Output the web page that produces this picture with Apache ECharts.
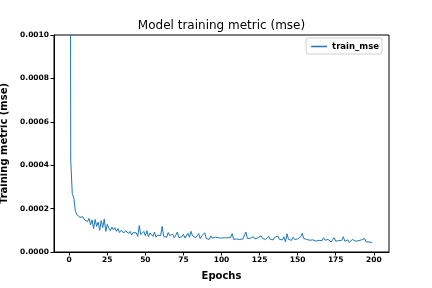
<!DOCTYPE html>
<html><head><meta charset="utf-8">
<script src="https://cdn.jsdelivr.net/npm/echarts@6/dist/echarts.min.js"></script>
<style>html,body{margin:0;padding:0;background:#fff}#c{width:432px;height:288px}</style>
</head><body><div id="c"></div>
<script>
const trainMse = [
0.0045,0.00042,0.00027,0.00025,0.00019,0.000172,0.000168,0.000160,0.000158,0.000162,
0.000148,0.000152,0.000140,0.000155,0.000125,0.000148,0.000108,0.000150,0.000118,0.000138,
0.000100,0.000145,0.000112,0.000152,0.000095,0.000128,0.000110,0.000098,0.000115,0.000102,
0.000112,0.000095,0.000108,0.000090,0.000100,0.000105,0.000088,0.000098,0.000092,0.000085,
0.000095,0.000078,0.000090,0.000082,0.000088,0.000072,0.000122,0.000080,0.000085,0.000095,
0.000075,0.000098,0.000070,0.000088,0.000080,0.000072,0.000092,0.000068,0.000078,0.000085,
0.000075,0.000118,0.000072,0.000080,0.000068,0.000090,0.000076,0.000070,0.000082,0.000065,
0.000078,0.000092,0.000066,0.000074,0.000070,0.000082,0.000064,0.000072,0.000086,0.000068,
0.000095,0.000074,0.000080,0.000066,0.000072,0.000085,0.000062,0.000075,0.000068,0.000088,
0.000062,0.000070,0.000058,0.000074,0.000064,0.000060,0.000068,0.000062,0.000066,0.000060,
0.000064,0.000062,0.000066,0.000060,0.000065,0.000062,0.000068,0.000085,0.000058,0.000062,
0.000060,0.000064,0.000058,0.000062,0.000060,0.000066,0.000092,0.000062,0.000056,0.000064,
0.000058,0.000070,0.000060,0.000056,0.000066,0.000060,0.000074,0.000062,0.000068,0.000058,
0.000064,0.000072,0.000058,0.000062,0.000056,0.000068,0.000060,0.000074,0.000058,0.000064,
0.000056,0.000070,0.000046,0.000084,0.000058,0.000062,0.000054,0.000068,0.000058,0.000064,
0.000060,0.000056,0.000070,0.000086,0.000062,0.000066,0.000058,0.000064,0.000054,0.000060,
0.000056,0.000062,0.000050,0.000058,0.000054,0.000060,0.000052,0.000066,0.000054,0.000048,
0.000058,0.000062,0.000046,0.000056,0.000066,0.000050,0.000056,0.000052,0.000044,0.000054,
0.000070,0.000050,0.000048,0.000056,0.000044,0.000052,0.000058,0.000054,0.000050,0.000046,
0.000052,0.000048,0.000056,0.000064,0.000062,0.000046,0.000042,0.000046,0.000040,0.000044
];
const epochs = trainMse.map((_, i) => i);
const xTicks = [0, 25, 50, 75, 100, 125, 150, 175, 200];

const chart = echarts.init(document.getElementById('c'), null, {renderer: 'canvas'});
const font = 'DejaVu Sans';
chart.setOption({
  animation: false,
  backgroundColor: '#fff',
  textStyle: {fontFamily: font},
  title: {
    text: 'Model training metric (mse)',
    left: 216.5, textAlign: 'center', top: 15,
    textStyle: {fontFamily: font, fontSize: 12, fontWeight: 'normal', color: '#000'}
  },
  grid: {left: 54, right: 43, top: 35, bottom: 36, show: true, borderColor: '#000', borderWidth: 1,
    backgroundColor: 'transparent', containLabel: false, outerBoundsMode: 'none'},
  legend: {
    data: ['train_mse'], right: 50, top: 38,
    orient: 'vertical',
    backgroundColor: '#fff',
    borderColor: '#d0d0d0', borderWidth: 1, borderRadius: 2,
    padding: [4, 3, 3, 5],
    itemWidth: 16, itemHeight: 1.5, itemGap: 4,
    icon: 'rect',
    textStyle: {fontFamily: font, fontSize: 8.5, fontWeight: 'bold', color: '#000'}
  },
  xAxis: {
    type: 'value', min: -10, max: 210,
    name: 'Epochs', nameLocation: 'middle', nameGap: 19,
    nameTextStyle: {fontFamily: font, fontSize: 10, fontWeight: 'bold', color: '#000'},
    axisLine: {show: true, onZero: false, lineStyle: {color: '#000', width: 1}},
    axisTick: {show: true, length: 3.5, lineStyle: {color: '#000'}, customValues: xTicks},
    axisLabel: {fontFamily: font, fontSize: 7.5, fontWeight: 'bold', color: '#000', margin: 4, customValues: xTicks},
    splitLine: {show: false}
  },
  yAxis: {
    type: 'value', min: 0, max: 0.001, interval: 0.0002,
    name: 'Training metric (mse)', nameLocation: 'middle', nameGap: 36,
    nameTextStyle: {fontFamily: font, fontSize: 10, fontWeight: 'bold', color: '#000'},
    axisLine: {show: true, onZero: false, lineStyle: {color: '#000', width: 1}},
    axisTick: {show: true, length: 3.5, lineStyle: {color: '#000'}},
    axisLabel: {fontFamily: font, fontSize: 7.5, fontWeight: 'bold', color: '#000', margin: 5,
      formatter: v => v.toFixed(4)},
    splitLine: {show: false}
  },
  series: [{
    name: 'train_mse', type: 'line',
    data: epochs.map((e, i) => [e, trainMse[i]]),
    showSymbol: false, symbol: 'none',
    clip: true,
    lineStyle: {color: '#1f77b4', width: 1},
    itemStyle: {color: '#1f77b4'}
  }]
});
</script>
</body></html>
